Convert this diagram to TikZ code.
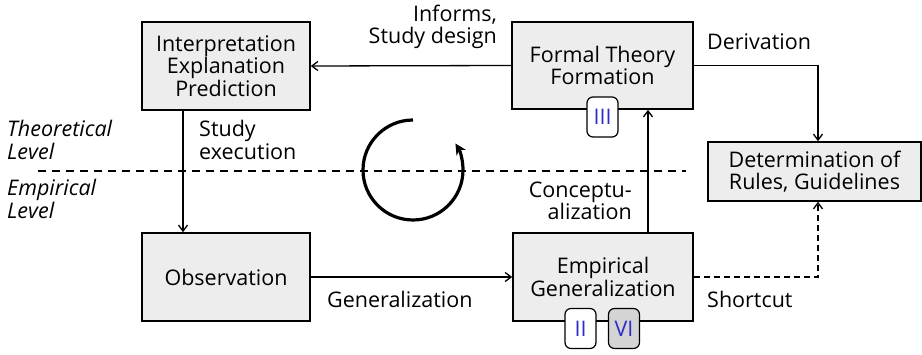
\documentclass[tikz,border=0pt]{standalone}
\usepackage{fontspec}
\setmainfont{Open Sans}
\usetikzlibrary{arrows.meta}
\definecolor{badgeblue}{RGB}{45,45,200}
\begin{document}
\begin{tikzpicture}[x=1pt,y=-1pt,
  every node/.style={font=\fontsize{21.5}{22.5}\selectfont, inner sep=0pt},
  box/.style={draw, line width=1.6pt, fill=black!7, align=center},
  badge/.style={draw, line width=1.2pt, rounded corners=6pt, fill=white,
    minimum width=31pt, minimum height=40pt, text=badgeblue},
  lbl/.style={align=left},
  conn/.style={line width=1.3pt, -{Straight Barb[length=6pt,width=9pt]}},
  dconn/.style={conn, dash pattern=on 6pt off 4pt}]
\useasboundingbox (0,0) rectangle (922,355);

% process boxes
\node[box, minimum width=168pt, minimum height=88pt] (interp) at (226,66)
  {Interpretation\\Explanation\\Prediction};
\node[box, minimum width=181pt, minimum height=87pt] (formal) at (602.5,65.5)
  {Formal Theory\\Formation};
\node[box, minimum width=213pt, minimum height=59pt] (rules) at (814.5,171.5)
  {Determination of\\Rules, Guidelines};
\node[box, minimum width=168pt, minimum height=88pt] (obs) at (226,277)
  {Observation};
\node[box, minimum width=180pt, minimum height=88pt] (emp) at (603,277)
  {Empirical\\Generalization};

% badges
\node[badge] (b3) at (602.5,117) {III};
\node[badge] (b2) at (580.5,328.5) {II};
\node[badge, fill=black!17] (b6) at (624,328.5) {VI};

% level separator
\coordinate (sepL) at (38,171);
\coordinate (sepR) at (686,171);
\draw[line width=1.8pt, dash pattern=on 8pt off 6pt] (sepL) -- (sepR);

% cycle symbol (y axis points down, so angles run the other way)
\draw[line width=3.2pt, -{Stealth[length=11pt,width=11pt]}]
  (413,170) ++(-90:50) arc[start angle=-90, end angle=-392, radius=50];

% connectors
\draw[conn] (formal.west) -- (interp.east);
\draw[conn] (interp.south -| 183,0) -- (obs.north -| 183,0);
\draw[conn] (obs.east) -- (emp.west);
\draw[conn] (emp.north -| 648,0) -- (formal.south -| 648,0);
\draw[conn] (formal.east) -| (rules.north -| 818,0);
\draw[dconn] (emp.east) -| (rules.south -| 818,0);

% labels
\node[align=right, anchor=east] (l1) at (497,27) {Informs,\\Study design};
\node[anchor=west] (l2) at (707,42) {Derivation};
\node[lbl, anchor=west] (l3) at (199,140) {Study\\execution};
\node[lbl, anchor=west, font=\fontsize{21.5}{22.5}\selectfont\itshape] (l4) at (7,140) {Theoretical\\Level};
\node[lbl, anchor=west, font=\fontsize{21.5}{22.5}\selectfont\itshape] (l5) at (7,199) {Empirical\\Level};
\node[align=right, anchor=east] (l6) at (632,201) {Conceptu-\\alization};
\node[anchor=west] (l7) at (327,299) {Generalization};
\node[anchor=west] (l8) at (707,299) {Shortcut};
\end{tikzpicture}
\end{document}
